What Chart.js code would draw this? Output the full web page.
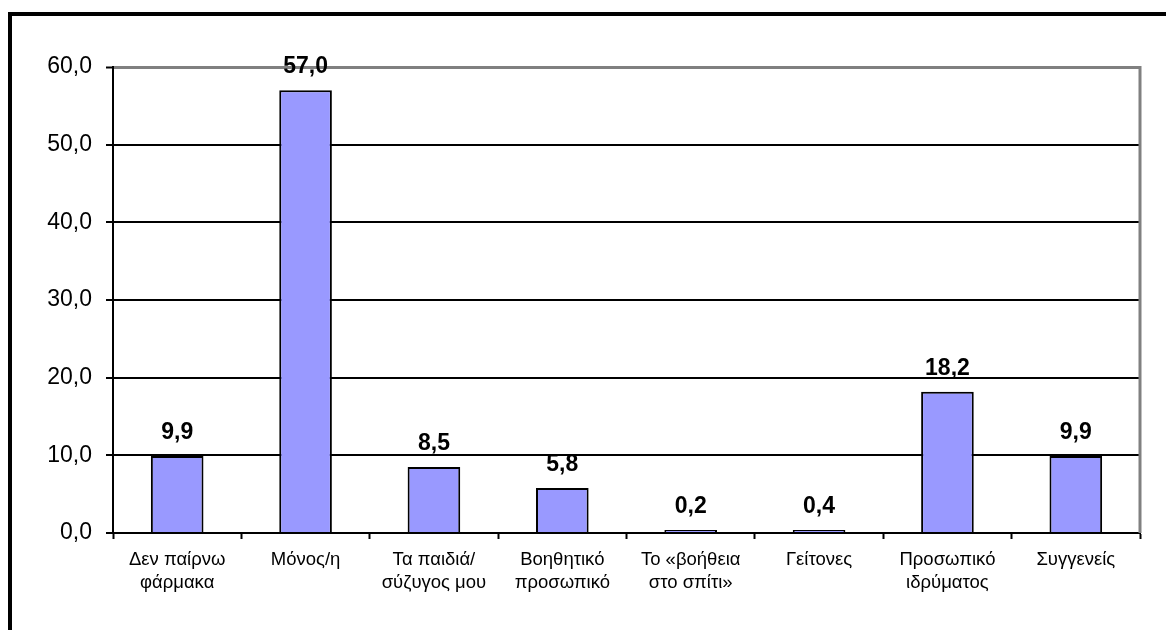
<!DOCTYPE html>
<html>
<head>
<meta charset="utf-8">
<script src="https://cdn.jsdelivr.net/npm/chart.js@4"></script>
<style>
  html, body { margin: 0; padding: 0; background: #fff; overflow: hidden; }
  #wrap { position: relative; width: 1166px; height: 630px; }
  #frame {
    position: absolute; left: 8px; top: 12px; width: 1200px; height: 700px;
    border: 4px solid #000; box-sizing: border-box;
  }
  canvas { position: absolute; left: 0; top: 0; }
</style>
</head>
<body>
<div id="wrap">
  <div id="frame"></div>
  <canvas id="chart" width="1166" height="630"></canvas>
</div>
<script>
// categories (multi-line labels as in the picture)
const categories = [
  ["Δεν παίρνω", "φάρμακα"],
  ["Μόνος/η"],
  ["Τα παιδιά/", "σύζυγος μου"],
  ["Βοηθητικό", "προσωπικό"],
  ["Το «βοήθεια", "στο σπίτι»"],
  ["Γείτονες"],
  ["Προσωπικό", "ιδρύματος"],
  ["Συγγενείς"]
];
const values = [9.9, 57.0, 8.5, 5.8, 0.2, 0.4, 18.2, 9.9];
const yTicks = [0, 10, 20, 30, 40, 50, 60];

const fmt = v => v.toFixed(1).replace(".", ",");
const FONT = "'Liberation Sans', Arial, sans-serif";

// data labels above the bars + grey right border of the plot
const extras = {
  id: "extras",
  afterDatasetsDraw(chart){
    const ctx = chart.ctx;
    const meta = chart.getDatasetMeta(0);
    ctx.save();
    ctx.font = "bold 23px " + FONT;
    ctx.fillStyle = "#000";
    ctx.textAlign = "center";
    ctx.textBaseline = "alphabetic";
    meta.data.forEach((bar, i) => {
      ctx.fillText(fmt(values[i]), bar.x, bar.y - 17);
    });
    const a = chart.chartArea;
    ctx.strokeStyle = "#808080";
    ctx.lineWidth = 3;
    ctx.beginPath();
    ctx.moveTo(a.right, a.top - 1);
    ctx.lineTo(a.right, a.bottom);
    ctx.stroke();
    ctx.restore();
  }
};

new Chart(document.getElementById("chart").getContext("2d"), {
  type: "bar",
  data: {
    labels: categories,
    datasets: [{
      data: values,
      backgroundColor: "#9999FF",
      borderColor: "#000",
      borderWidth: 2,
      minBarLength: 3,
      categoryPercentage: 1,
      barPercentage: 0.41
    }]
  },
  options: {
    responsive: false,
    animation: false,
    layout: { padding: { top: 67, right: 26, left: 0, bottom: 0 } },
    plugins: { legend: { display: false }, tooltip: { enabled: false } },
    scales: {
      x: {
        afterFit(s){ s.height = 97; },
        grid: {
          offset: true, drawOnChartArea: false,
          tickLength: 6, tickColor: "#000", tickWidth: 2
        },
        border: { color: "#000", width: 2 },
        ticks: {
          color: "#000", padding: 9, maxRotation: 0, autoSkip: false,
          font: { family: FONT, size: 18.5, lineHeight: 1.25 }
        }
      },
      y: {
        min: 0, max: 60,
        afterFit(s){ s.width = 113; },
        afterBuildTicks(s){ s.ticks = yTicks.map(v => ({ value: v })); },
        grid: {
          color: c => (c.tick && c.tick.value === 60) ? "#808080" : "#000",
          lineWidth: c => (c.tick && c.tick.value === 60) ? 3 : 2,
          tickLength: 7, tickColor: "#000", tickWidth: 2
        },
        border: { color: "#000", width: 2 },
        ticks: {
          color: "#000", padding: 14,
          callback: v => fmt(v),
          font: { family: FONT, size: 23 }
        }
      }
    }
  },
  plugins: [extras]
});
</script>
</body>
</html>
